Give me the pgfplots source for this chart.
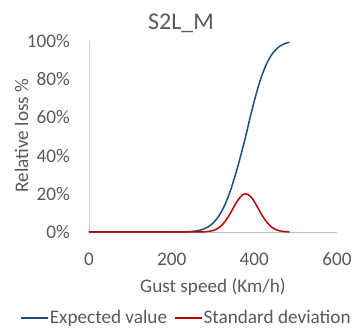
\documentclass[border=0pt]{standalone}
\usepackage{fontspec}
\setmainfont{Carlito}
\usepackage{pgfplots}
\pgfplotsset{compat=1.18}
\definecolor{txt}{HTML}{595959}
\definecolor{blueline}{HTML}{1F4E79}
\definecolor{redline}{HTML}{C00000}
\definecolor{axgray}{HTML}{BFBFBF}
\begin{document}
\begin{tikzpicture}[x=1pt,y=1pt]
\path[use as bounding box] (0,0) rectangle (362,-328);
\node[anchor=base, text=txt, font=\fontsize{24}{26}\selectfont] at (181,-29.3) {S2L\_M};
\begin{axis}[
  at={(89pt,-232pt)}, anchor=south west,
  scale only axis, width=248pt, height=191pt,
  xmin=0, xmax=600, ymin=0, ymax=1,
  xtick={0,200,400,600}, xticklabels={0,200,400,600},
  ytick={0,0.2,0.4,0.6,0.8,1},
  yticklabels={0\%,20\%,40\%,60\%,80\%,100\%},
  axis x line=bottom, axis y line=left,
  x axis line style={-, draw=axgray, line width=0.9pt},
  y axis line style={-, draw=axgray!70, line width=0.6pt},
  major tick length=0pt,
  tick label style={text=txt, font=\fontsize{19.2}{21}\selectfont, inner sep=0pt},
  xticklabel style={anchor=north, yshift=-20.5pt},
  yticklabel style={anchor=east, xshift=-19pt},
  xlabel={Gust speed (Km/h)},
  ylabel={Relative loss \%},
  label style={text=txt, font=\fontsize{19.2}{21}\selectfont},
  xlabel style={at={(axis description cs:0.5,-0.318)}, anchor=base},
  ylabel style={at={(axis description cs:-0.245,0.505)}, anchor=base, rotate=0},
  legend style={at={(axis description cs:0.391,-0.45)}, anchor=center, draw=none, fill=none,
    legend columns=2, font=\fontsize{19.2}{21}\selectfont, text=txt,
    nodes={inner sep=1pt},
    /tikz/every even column/.append style={column sep=6pt}},
  legend image code/.code={\draw[#1] (0pt,0pt) -- (27pt,0pt);},
  clip=false,
]
\addplot[blueline, line width=1.5pt, smooth] coordinates {
(0,0) (100,0) (200,0.0001) (220,0.0004) (240,0.0015) (250,0.0030) (260,0.0057)
(270,0.0102) (280,0.0176) (290,0.0291) (300,0.0464) (310,0.071) (320,0.1047)
(330,0.1485) (340,0.2033) (350,0.269) (360,0.343) (370,0.424) (379,0.5)
(390,0.601) (400,0.687) (410,0.7645) (420,0.830) (430,0.882) (440,0.922)
(450,0.9506) (460,0.970) (470,0.9828) (480,0.9906) (485,0.9932)
};
\addlegendentry{Expected value}
\addplot[redline, line width=1.5pt, smooth] coordinates {
(0,0) (100,0) (200,0) (250,0.00003) (270,0.0004) (280,0.0012) (290,0.0032)
(300,0.0078) (310,0.0168) (320,0.0327) (330,0.0573) (340,0.0907) (350,0.129)
(360,0.166) (370,0.192) (379,0.2) (390,0.188) (400,0.159) (410,0.121)
(420,0.083) (430,0.0517) (440,0.0289) (450,0.0145) (460,0.0066) (470,0.0027)
(485,0.0006)
};
\addlegendentry{Standard deviation}
\end{axis}
\end{tikzpicture}
\end{document}
